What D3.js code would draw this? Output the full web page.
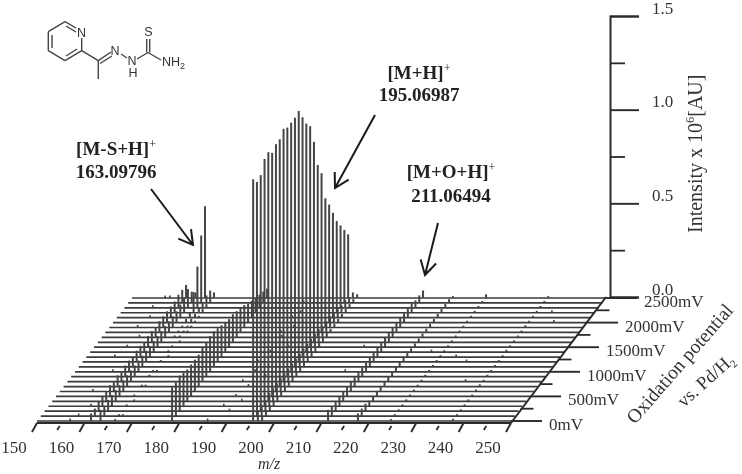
<!DOCTYPE html>
<html>
<head>
<meta charset="utf-8">
<script src="https://d3js.org/d3.v7.min.js"></script>
<style>
    body { margin: 0; background: #fff; }
    text { font-family: "Liberation Serif", serif; fill: #333; }
    .tick-label { font-size: 17px; }
    .note { font-size: 19px; font-weight: 700; fill: #222; }
    .mol { font-family: "Liberation Sans", sans-serif; font-size: 12.5px; fill: #333; }
</style>
</head>
<body>
<div id="chart"></div>
<script>
// oxidation potential of every trace, 0 to 2500 mV
const potentials = d3.range(0, 2501, 100);
const mzTicks = d3.range(150, 251, 10);
const mzMinor = d3.range(155, 250, 10);
const mvTicks = [0, 500, 1000, 1500, 2000, 2500];
const mvMinor = [250, 750, 1250, 1750, 2250];
const intensityTicks = [0, 0.5, 1.0, 1.5];
const intensityMinor = [0.25, 0.75, 1.25];

// m/z position of each ion trace and its intensity per potential (x 10^6)
const mzMain = 195.6;
const valMain = [1.29, 1.25, 1.26, 1.32, 1.33, 1.30, 1.32, 1.32, 1.35, 1.33, 1.33, 1.33, 1.34, 1.28, 1.22, 1.18, 1.07, 0.92, 0.85, 0.69, 0.63, 0.56, 0.49, 0.44, 0.39, 0.34];
const mzFrag = 178.5;
const valFrag = [0.18, 0.18, 0.19, 0.18, 0.17, 0.17, 0.17, 0.17, 0.18, 0.18, 0.19, 0.19, 0.18, 0.17, 0.16, 0.15, 0.15, 0.14, 0.13, 0.12, 0.10, 0.09, 0.08, 0.07, 0.06, 0.05];
const mzSulfurA = 161.4;
const valSulfurA = [0.04, 0.04, 0.05, 0.05, 0.05, 0.06, 0.05, 0.06, 0.05, 0.06, 0.06, 0.05, 0.06, 0.06, 0.05, 0.06, 0.06, 0.05, 0.06, 0.06, 0.06, 0.06, 0.06, 0.07, 0.07, 0.07];
const mzSulfurB = 163.4;
const valSulfurB = [0.06, 0.05, 0.06, 0.06, 0.06, 0.06, 0.06, 0.06, 0.06, 0.06, 0.06, 0.06, 0.06, 0.06, 0.06, 0.06, 0.06, 0.06, 0.06, 0.06, 0.06, 0.07, 0.08, 0.10, 0.06, 0.03];
const mzLoss = 165.4;
const valLoss = [0, 0, 0, 0, 0, 0, 0, 0, 0, 0, 0, 0, 0, 0, 0, 0, 0, 0.01, 0.01, 0.01, 0.02, 0.03, 0.11, 0.22, 0.36, 0.49];
const mzLossB = 166.5;
const valLossB = [0.01, 0.01, 0, 0.01, 0, 0.01, 0, 0.01, 0, 0.01, 0.01, 0, 0.01, 0, 0.01, 0.01, 0, 0.01, 0.01, 0.01, 0.02, 0.02, 0.03, 0.03, 0.04, 0.04];
const mzLossC = 167.3;
const valLossC = [0, 0.01, 0, 0, 0.01, 0, 0, 0.01, 0, 0, 0.01, 0, 0, 0.01, 0, 0, 0.01, 0, 0.01, 0.01, 0.01, 0.01, 0.02, 0.02, 0.03, 0.03];
const mzIsoA = 196.6;
const valIsoA = [0.05, 0.06, 0.06, 0.07, 0.07, 0.07, 0.07, 0.07, 0.07, 0.07, 0.07, 0.07, 0.07, 0.07, 0.07, 0.07, 0.07, 0.06, 0.06, 0.06, 0.05, 0.05, 0.04, 0.04, 0.03, 0.03];
const mzIsoB = 197.5;
const valIsoB = [0.03, 0.03, 0.03, 0.03, 0.03, 0.03, 0.03, 0.03, 0.03, 0.03, 0.03, 0.03, 0.03, 0.03, 0.03, 0.03, 0.03, 0.03, 0.02, 0.02, 0.02, 0.02, 0.02, 0.02, 0.02, 0.02];
const mzOxide = 211.4;
const valOxide = [0.06, 0.05, 0.05, 0.05, 0.05, 0.05, 0.05, 0.05, 0.05, 0.05, 0.05, 0.05, 0.05, 0.05, 0.05, 0.05, 0.05, 0.05, 0.05, 0.05, 0.05, 0.05, 0.05, 0.04, 0.04, 0.04];
const mzOxideB = 217.7;
const valOxideB = [0.04, 0.04, 0.04, 0.03, 0.03, 0.03, 0.03, 0.03, 0.03, 0.03, 0.03, 0.03, 0.03, 0.03, 0.02, 0.02, 0.02, 0.02, 0.02, 0.02, 0.02, 0.02, 0.02, 0.02, 0.02, 0.01];
const mzSmall = 224.7;
const valSmall = [0.01, 0.01, 0.01, 0.01, 0.01, 0.01, 0.01, 0.01, 0.01, 0.01, 0.01, 0.01, 0.01, 0.01, 0.01, 0.01, 0.01, 0.01, 0.01, 0.01, 0.01, 0.01, 0.01, 0.01, 0.01, 0.02];
const mzTiny = 237.8;
const valTiny = [0.012, 0.01, 0.01, 0.01, 0.01, 0.01, 0.01, 0.012, 0.01, 0.01, 0.01, 0.01, 0.01, 0.01, 0.012, 0.01, 0.01, 0.01, 0.01, 0.012, 0.01, 0.01, 0.01, 0.01, 0.01, 0.01];

// little noise spikes seen along the traces: mV, m/z
const noiseMv = [0, 0, 100, 200, 300, 300, 400, 500, 600, 700, 800, 900, 1000, 1000, 1100, 1200, 1300, 1300, 1400, 1500, 1500, 1600, 1700, 1700, 1800, 1900, 1900, 2000, 2100, 2100, 2200, 2300, 2300, 2400, 2500, 2500, 1500, 1400, 1300, 1200, 1000, 800, 2200, 2000];
const noiseMz = [157, 186, 158, 189, 159, 187, 190, 188, 157, 189, 187, 191, 158, 188, 190, 187, 156, 189, 188, 157, 191, 186, 158, 188, 187, 156, 189, 190, 157, 187, 188, 156, 186, 187, 157, 158, 207, 222, 228, 231, 207, 234, 241, 243];

const series = [
    [mzMain, valMain], [mzFrag, valFrag], [mzSulfurA, valSulfurA], [mzSulfurB, valSulfurB],
    [mzLoss, valLoss], [mzLossB, valLossB], [mzLossC, valLossC], [mzIsoA, valIsoA],
    [mzIsoB, valIsoB], [mzOxide, valOxide], [mzOxideB, valOxideB], [mzSmall, valSmall], [mzTiny, valTiny]
];

const ink = "#3a3a3a";
const svg = d3.select("#chart").append("svg").attr("width", 742).attr("height", 474);
svg.append("defs").append("filter").attr("id", "soft")
    .attr("filterUnits", "userSpaceOnUse")
    .attr("x", 0).attr("y", 0).attr("width", 742).attr("height", 474)
    .append("feGaussianBlur").attr("stdDeviation", 0.4);
const g = svg.append("g").attr("filter", "url(#soft)");

// pseudo 3D: m/z runs along x, potential moves up and right, intensity goes straight up
const x = d3.scaleLinear().domain([150, 250]).range([37, 511]);
const rowY = d3.scaleLinear().domain([0, 2500]).range([421, 298]);
const skew = d3.scaleLinear().domain([0, 2500]).range([0, 95]);
const z = d3.scaleLinear().domain([0, 1.5]).range([0, 281]);
const axisY = 423;

// traces, back to front
potentials.slice().reverse().forEach(function(mv) {
    g.append("line")
        .attr("x1", x(150) + skew(mv)).attr("x2", x(250) + skew(mv))
        .attr("y1", rowY(mv)).attr("y2", rowY(mv))
        .attr("stroke", ink).attr("stroke-width", 1.7);
});

series.forEach(function(s) {
    g.selectAll(null).data(s[1].map((v, i) => [potentials[i], v])).join("line")
        .attr("x1", d => x(s[0]) + skew(d[0])).attr("x2", d => x(s[0]) + skew(d[0]))
        .attr("y1", d => rowY(d[0])).attr("y2", d => rowY(d[0]) - z(d[1]))
        .attr("stroke", "#444").attr("stroke-width", 2);
});

g.selectAll(null).data(noiseMv.map((mv, i) => [mv, noiseMz[i]])).join("line")
    .attr("x1", d => x(d[1]) + skew(d[0])).attr("x2", d => x(d[1]) + skew(d[0]))
    .attr("y1", d => rowY(d[0]) + 0.5).attr("y2", d => rowY(d[0]) - 2.5)
    .attr("stroke", "#444").attr("stroke-width", 1.6);

// front axis with slanted ticks
g.append("line").attr("x1", x(150)).attr("x2", x(250)).attr("y1", axisY).attr("y2", axisY)
    .attr("stroke", "#2a2a2a").attr("stroke-width", 2);
g.selectAll(null).data(mzTicks).join("line")
    .attr("x1", d => x(d)).attr("x2", d => x(d) - 5).attr("y1", axisY).attr("y2", axisY + 9)
    .attr("stroke", "#2a2a2a").attr("stroke-width", 1.9);
g.selectAll(null).data(mzMinor).join("line")
    .attr("x1", d => x(d) - 1).attr("x2", d => x(d) - 3.5).attr("y1", axisY + 3).attr("y2", axisY + 7)
    .attr("stroke", "#2a2a2a").attr("stroke-width", 1.8);
g.selectAll(null).data(mzTicks).join("text")
    .attr("class", "tick-label")
    .attr("x", d => x(d) - 23).attr("y", 453).attr("text-anchor", "middle").text(d => d);
g.append("text").attr("x", 269).attr("y", 469).attr("text-anchor", "middle")
    .style("font-size", "16px").style("font-style", "italic").text("m/z");

// potential axis along the right edge
g.append("line").attr("x1", x(250)).attr("x2", x(250) + skew(2500)).attr("y1", axisY).attr("y2", rowY(2500) - 1)
    .attr("stroke", "#2a2a2a").attr("stroke-width", 2);
g.selectAll(null).data(mvTicks).join("line")
    .attr("x1", d => x(250) + skew(d)).attr("x2", d => x(250) + skew(d) + 31)
    .attr("y1", d => rowY(d)).attr("y2", d => rowY(d))
    .attr("stroke", "#2a2a2a").attr("stroke-width", 1.9);
g.selectAll(null).data(mvMinor).join("line")
    .attr("x1", d => x(250) + skew(d)).attr("x2", d => x(250) + skew(d) + 13)
    .attr("y1", d => rowY(d)).attr("y2", d => rowY(d))
    .attr("stroke", "#2a2a2a").attr("stroke-width", 1.8);
g.selectAll(null).data(mvTicks).join("text")
    .attr("class", "tick-label")
    .attr("x", d => x(250) + skew(d) + 38).attr("y", d => rowY(d) + 9).text(d => d + "mV");

g.append("text").attr("transform", "translate(635,425) rotate(-49)")
    .style("font-size", "19.5px").text("Oxidation potential");
const vs = g.append("text").attr("transform", "translate(684,408) rotate(-42)")
    .style("font-size", "18.5px").text("vs. Pd/H");
vs.append("tspan").attr("dy", 4).style("font-size", "11px").text("2");

// intensity axis
const zAxisScale = d3.scaleLinear().domain([0, 1.5]).range([297, 16]);
const zMajor = g.append("g").attr("transform", "translate(610,0)")
    .call(d3.axisRight(zAxisScale).tickValues(intensityTicks).tickSize(29).tickPadding(13).tickFormat(d3.format(".1f")));
zMajor.select(".domain").attr("stroke", "#2a2a2a").attr("stroke-width", 2);
zMajor.selectAll(".tick line").attr("stroke", "#2a2a2a").attr("stroke-width", 1.9);
zMajor.selectAll(".tick text").attr("class", "tick-label").attr("dy", "-0.17em").attr("font-family", null).attr("fill", null);
zMajor.attr("font-family", null).attr("font-size", null);
const zMinor = g.append("g").attr("transform", "translate(610,0)")
    .call(d3.axisRight(zAxisScale).tickValues(intensityMinor).tickSize(15).tickFormat(""));
zMinor.select(".domain").remove();
zMinor.selectAll(".tick line").attr("stroke", "#2a2a2a").attr("stroke-width", 1.8);

const zTitle = g.append("text").attr("transform", "translate(702,233) rotate(-90)")
    .style("font-size", "20px").text("Intensity x 10");
zTitle.append("tspan").attr("dy", -8).style("font-size", "12.5px").text("6");
zTitle.append("tspan").attr("dy", 8).text("[AU]");

// peak annotations
function note(cx, y1, y2, ion, mass) {
    const t = g.append("text").attr("class", "note").attr("x", cx).attr("y", y1).attr("text-anchor", "middle").text(ion);
    t.append("tspan").attr("dy", -7).style("font-size", "12px").style("font-weight", 400).text("+");
    g.append("text").attr("class", "note").attr("x", cx).attr("y", y2).attr("text-anchor", "middle").text(mass);
}
note(419, 79, 101, "[M+H]", "195.06987");
note(116, 155, 178, "[M-S+H]", "163.09796");
note(451, 178, 202, "[M+O+H]", "211.06494");

function arrow(x0, y0, x1, y1) {
    const a = Math.atan2(y1 - y0, x1 - x0), head = 16, spread = 0.52;
    const path = d3.path();
    path.moveTo(x0, y0);
    path.lineTo(x1, y1);
    path.moveTo(x1 - head * Math.cos(a - spread), y1 - head * Math.sin(a - spread));
    path.lineTo(x1, y1);
    path.lineTo(x1 - head * Math.cos(a + spread), y1 - head * Math.sin(a + spread));
    g.append("path").attr("d", path.toString()).attr("fill", "none")
        .attr("stroke", "#1a1a1a").attr("stroke-width", 2);
}
arrow(375, 115, 335, 188);
arrow(151, 189, 193, 245);
arrow(438, 223, 425, 275);

// structure of the compound
const bonds = [
    [65, 21.7, 76, 28], [81.7, 38, 81.7, 50.7], [81.7, 50.7, 65, 60.7], [65, 60.7, 48.3, 50.7], [48.3, 50.7, 48.3, 31.7], [48.3, 31.7, 65, 21.7],
    [52, 35, 52, 48], [66, 26, 76, 32], [66, 56, 77, 49],
    [81.7, 50.7, 98.3, 60.7], [98.3, 60.7, 98.3, 79], [98.3, 60.7, 111, 52], [100, 63.5, 112, 56],
    [121, 54, 127, 58], [137, 59, 148, 52.5], [146.7, 52.5, 146.7, 39], [149.7, 52.5, 149.7, 39], [148, 52.5, 161, 60]
];
const mol = svg.append("g").attr("filter", "url(#soft)");
mol.selectAll("line").data(bonds).join("line")
    .attr("x1", d => d[0]).attr("y1", d => d[1]).attr("x2", d => d[2]).attr("y2", d => d[3])
    .attr("stroke", "#444").attr("stroke-width", 1.4);
const atoms = [["N", 81.5, 37], ["N", 115, 55], ["N", 132, 65], ["H", 133, 77], ["S", 148.5, 36], ["NH", 171, 66]];
mol.selectAll("text").data(atoms).join("text").attr("class", "mol")
    .attr("x", d => d[1]).attr("y", d => d[2]).attr("text-anchor", "middle").text(d => d[0]);
mol.append("text").attr("class", "mol").attr("x", 180).attr("y", 69).style("font-size", "9px").text("2");
</script>
</body>
</html>
